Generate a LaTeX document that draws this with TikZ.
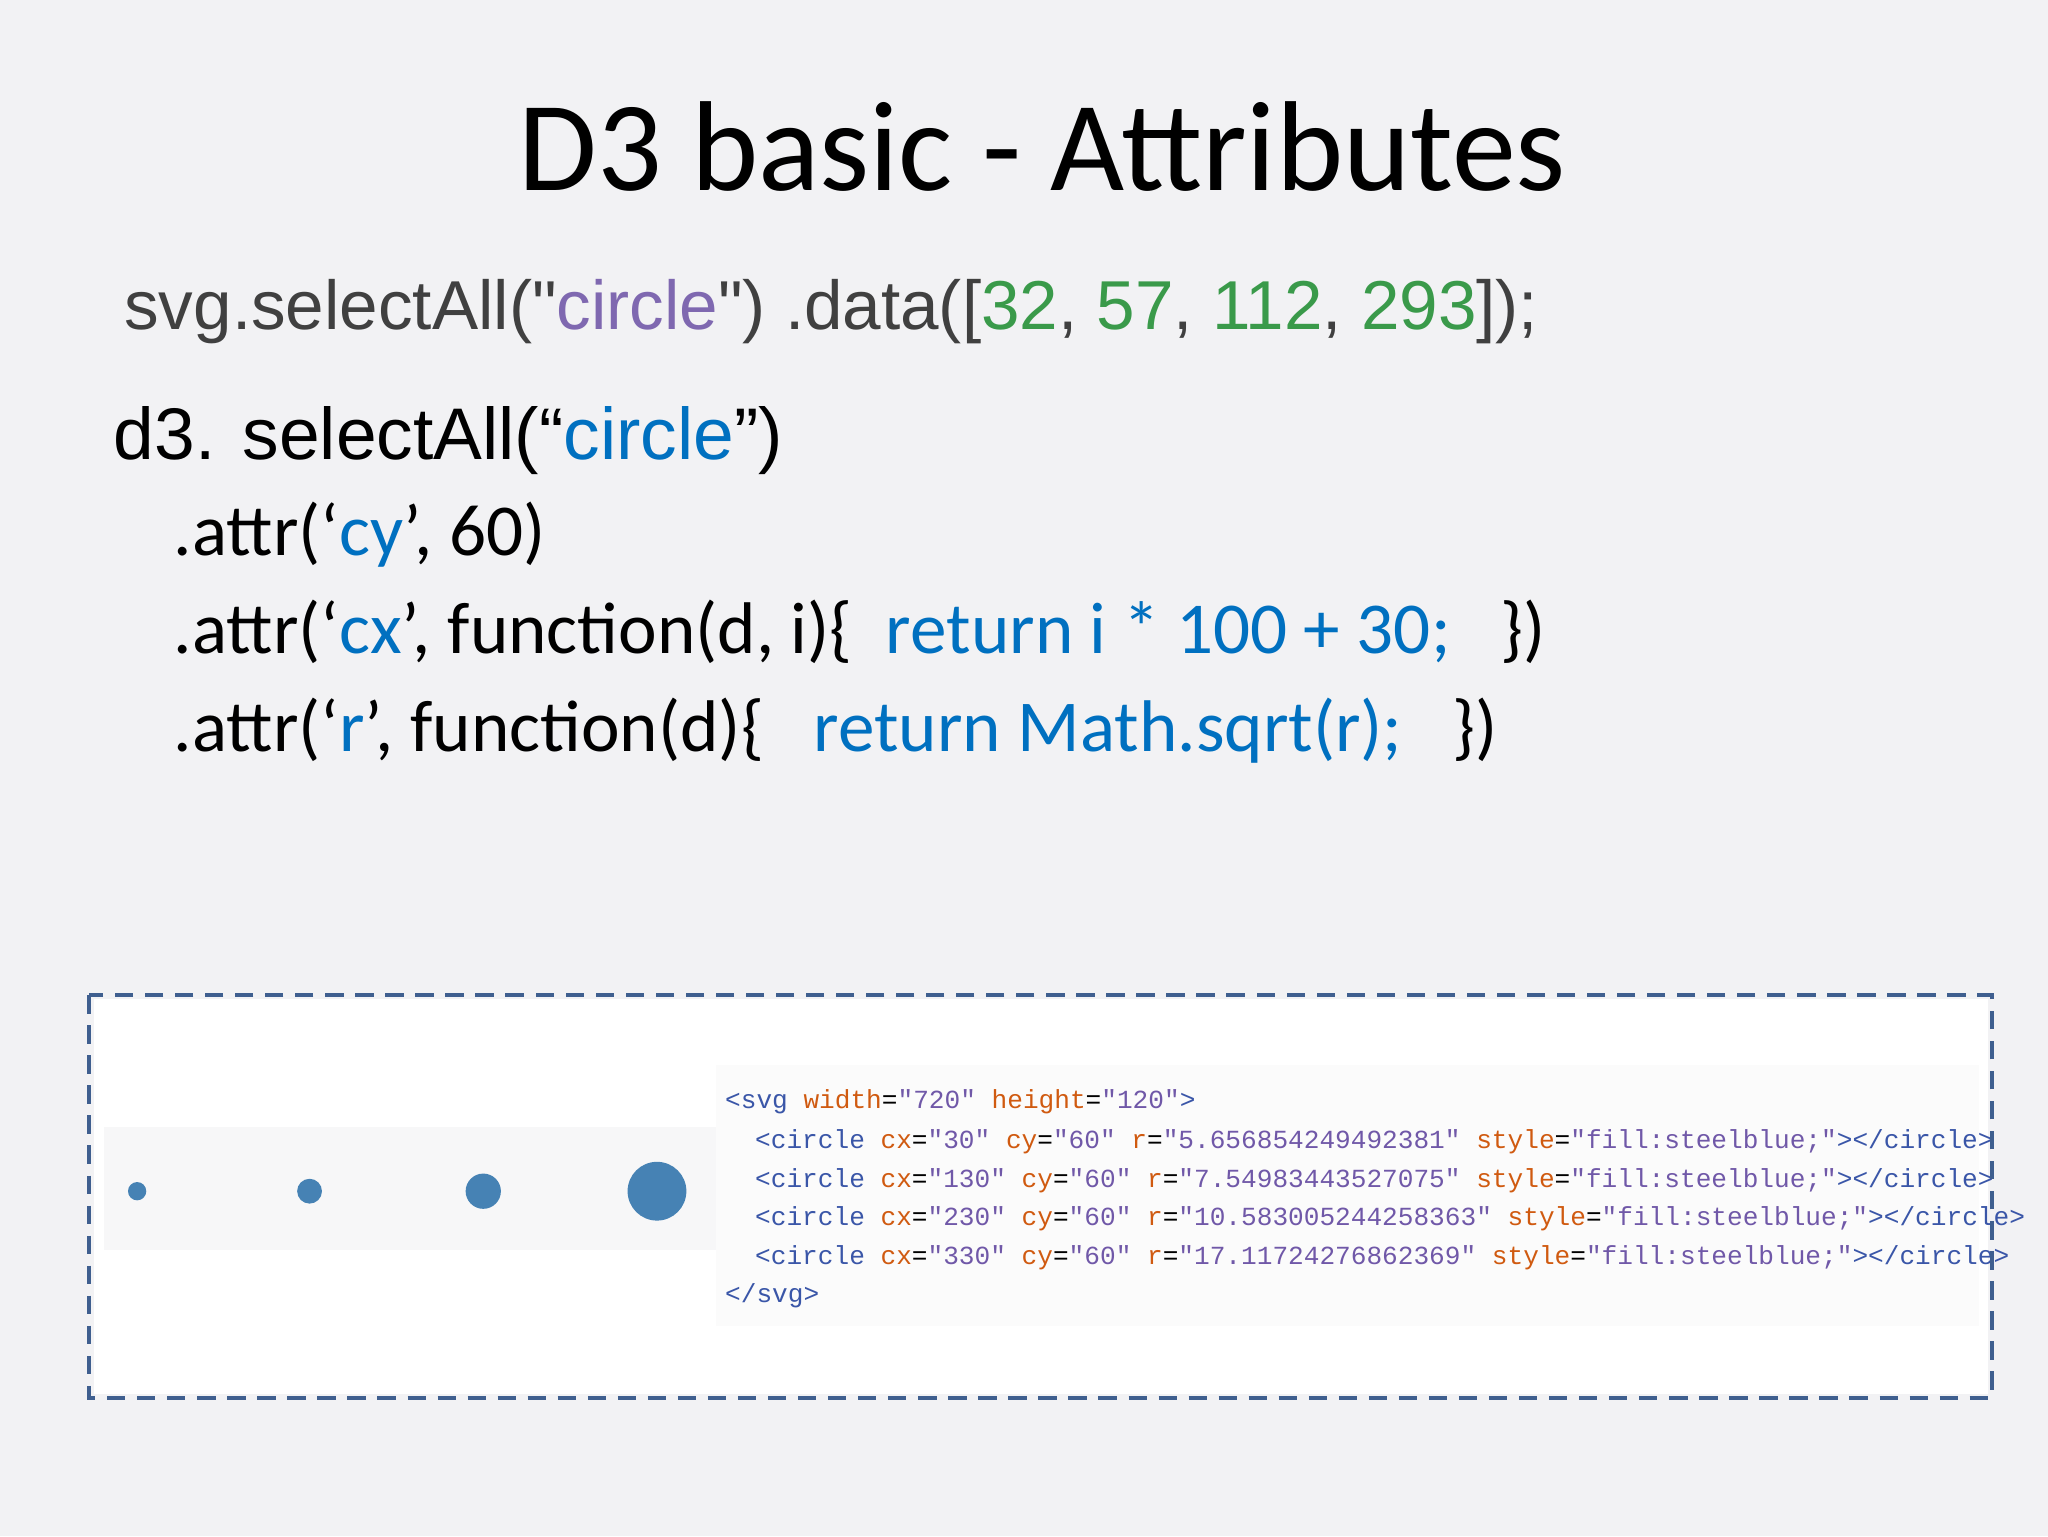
\documentclass[tikz,border=0pt]{standalone}
\usepackage{fontspec}
\setmainfont{Liberation Sans}
\newfontfamily\calfnt{Carlito}
\newfontfamily\arl{Liberation Sans}
\newfontfamily\mon{Liberation Mono}
\definecolor{bg}{HTML}{F2F2F4}
\definecolor{gr}{HTML}{404040}
\definecolor{pu}{HTML}{7F68B0}
\definecolor{gn}{HTML}{3A9A4A}
\definecolor{bl}{HTML}{0070C0}
\definecolor{dashcol}{HTML}{3F5F8F}
\definecolor{steel}{HTML}{4682B4}
\definecolor{tg}{HTML}{3A56A8}
\definecolor{at}{HTML}{D05A10}
\definecolor{va}{HTML}{7058A8}
\newcommand{\Tg}[1]{\textcolor{tg}{#1}}
\newcommand{\Ag}[1]{\textcolor{at}{#1}}
\newcommand{\Vg}[1]{\textcolor{va}{#1}}
\begin{document}
\begin{tikzpicture}[x=1pt,y=-1pt,
  txt/.style={anchor=base west,inner sep=0pt},
  codeln/.style={anchor=base west,inner sep=0pt,font=\mon\fontsize{20}{20}\selectfont},
  dot/.style={circle,fill=steel,inner sep=0pt}]
\fill[bg] (0,0) rectangle (1568,1176);
\useasboundingbox (0,0) rectangle (1568,1176);
\node[anchor=base,inner sep=0pt,font=\calfnt\fontsize{98}{98}\selectfont] (title) at (798,146) {D3 basic - Attributes};
\node[txt,text=gr,font=\arl\fontsize{53}{53}\selectfont] (l1) at (95,252)
 {svg.selectAll("\textcolor{pu}{circle}") .data([\textcolor{gn}{32}, \textcolor{gn}{57}, \textcolor{gn}{112}, \textcolor{gn}{293}]);};
\node[txt,font=\arl\fontsize{56}{56}\selectfont] (l2) at (87,352) {d3. selectAll(“\textcolor{bl}{circle}”)};
\node[txt,font=\calfnt\fontsize{56}{56}\selectfont] (l3) at (133,425) {.attr(‘\textcolor{bl}{cy}’, 60)};
\node[txt,font=\calfnt\fontsize{56}{56}\selectfont] (l4) at (133,500) {.attr(‘\textcolor{bl}{cx}’, function(d, i)\{\ \ \textcolor{bl}{return i * 100 + 30;}\ \ \ \})};
\node[txt,font=\calfnt\fontsize{56}{56}\selectfont] (l5) at (133,575) {.attr(‘\textcolor{bl}{r}’, function(d)\{\ \ \ \textcolor{bl}{return Math.sqrt(r);}\ \ \ \})};
\fill[white] (72,765) rectangle (1522,1067);
\fill[bg!60!white] (80,863) rectangle (548,957);
\fill[white!97!gray] (548,815) rectangle (1515,1015);
\node[dot,minimum size=14] (c1) at (105,912) {};
\node[dot,minimum size=19] (c2) at (237,912) {};
\node[dot,minimum size=27] (c3) at (370,912) {};
\node[dot,minimum size=45] (c4) at (503,912) {};
\node[codeln] (s0) at (555,849) {\Tg{<svg} \Ag{width}=\Vg{"720"} \Ag{height}=\Vg{"120"}\Tg{>}};
\node[codeln] (s1) at (578,879) {\Tg{<circle} \Ag{cx}=\Vg{"30"} \Ag{cy}=\Vg{"60"} \Ag{r}=\Vg{"5.656854249492381"} \Ag{style}=\Vg{"fill:steelblue;"}\Tg{></circle>}};
\node[codeln] (s2) at (578,909) {\Tg{<circle} \Ag{cx}=\Vg{"130"} \Ag{cy}=\Vg{"60"} \Ag{r}=\Vg{"7.54983443527075"} \Ag{style}=\Vg{"fill:steelblue;"}\Tg{></circle>}};
\node[codeln] (s3) at (578,938) {\Tg{<circle} \Ag{cx}=\Vg{"230"} \Ag{cy}=\Vg{"60"} \Ag{r}=\Vg{"10.583005244258363"} \Ag{style}=\Vg{"fill:steelblue;"}\Tg{></circle>}};
\node[codeln] (s4) at (578,968) {\Tg{<circle} \Ag{cx}=\Vg{"330"} \Ag{cy}=\Vg{"60"} \Ag{r}=\Vg{"17.11724276862369"} \Ag{style}=\Vg{"fill:steelblue;"}\Tg{></circle>}};
\node[codeln] (s5) at (555,997) {\Tg{</svg>}};
\draw[dashcol,line width=3,dash pattern=on 14 off 9] (68,762) rectangle (1525,1070);
\end{tikzpicture}
\end{document}
